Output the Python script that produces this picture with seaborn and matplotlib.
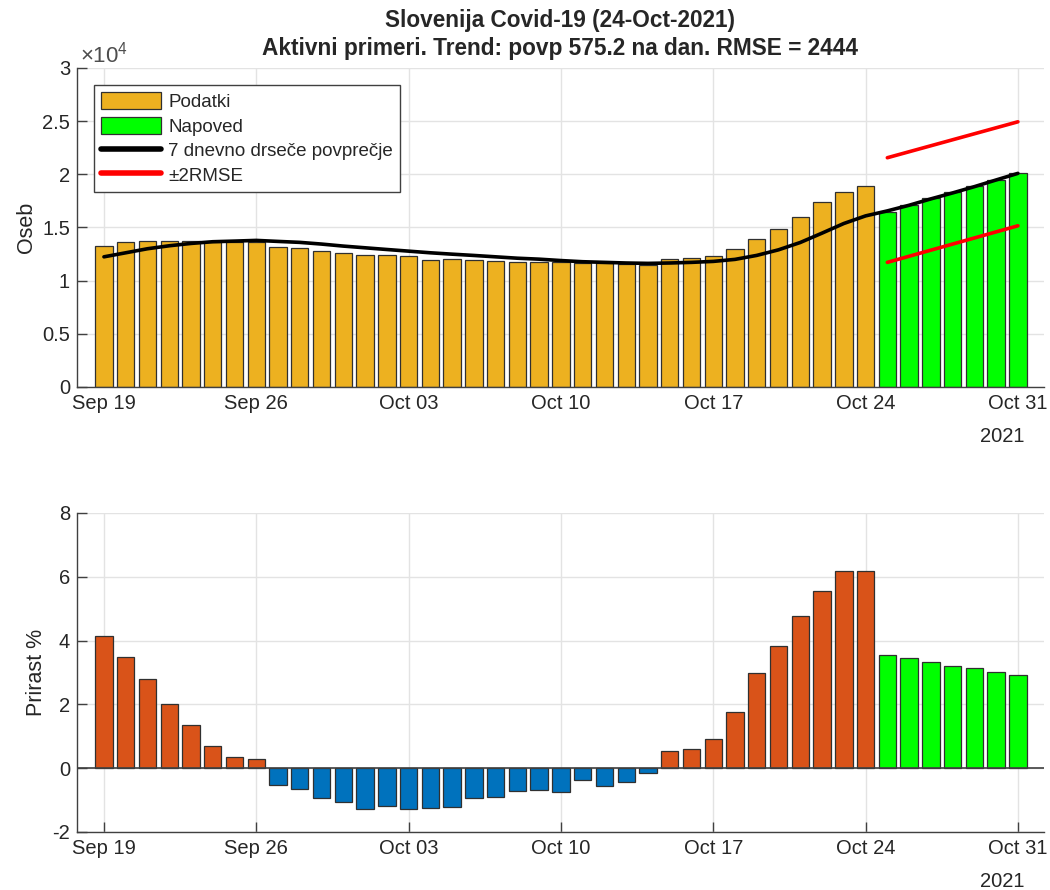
import numpy as np
import pandas as pd
import matplotlib
matplotlib.use("Agg")
import matplotlib.pyplot as plt
import seaborn as sns
from matplotlib.patches import Patch
from matplotlib.lines import Line2D

# ---------------- data ----------------
dates = pd.date_range("2021-09-19", "2021-10-31", freq="D")
tick_labels = ["Sep 19", "Sep 26", "Oct 03", "Oct 10", "Oct 17", "Oct 24", "Oct 31"]

# active cases (Sep 19 - Oct 24)
podatki = [13240, 13650, 13740, 13740, 13740, 13600, 13620, 13600, 13180, 13080,
           12800, 12610, 12420, 12420, 12330, 11950, 12075, 11950, 11855, 11760,
           11760, 11800, 11660, 11660, 11560, 11500, 12030, 12125, 12310, 12970,
           13940, 14875, 15970, 17400, 18340, 18875]
# forecast (Oct 25 - Oct 31)
napoved = [16470, 17090, 17750, 18310, 18900, 19500, 20125]
# 7-day moving average (Sep 19 - Oct 31)
drsece = [12240, 12620, 13000, 13280, 13500, 13660, 13720, 13785, 13690, 13600,
          13440, 13250, 13090, 12930, 12775, 12620, 12490, 12370, 12240, 12110,
          12020, 11890, 11780, 11720, 11660, 11625, 11660, 11720, 11810, 12000,
          12375, 12900, 13590, 14470, 15375, 16090, 16560, 17090, 17690, 18250,
          18840, 19470, 20090]
# +-2 RMSE band endpoints (Oct 25 and Oct 31)
rmse_days = [36, 42]
rmse_upper = [21560, 24940]
rmse_lower = [11720, 15160]
# daily growth in % (Sep 19 - Oct 31)
prirast = [4.14, 3.48, 2.81, 2.01, 1.36, 0.71, 0.34, 0.28, -0.52, -0.64,
           -0.95, -1.07, -1.29, -1.20, -1.29, -1.26, -1.23, -0.95, -0.89, -0.73,
           -0.68, -0.75, -0.36, -0.56, -0.44, -0.16, 0.53, 0.59, 0.91, 1.75,
           2.97, 3.83, 4.77, 5.55, 6.18, 6.18, 3.55, 3.46, 3.33, 3.21,
           3.13, 3.02, 2.93]

n_data = len(podatki)
days = np.arange(len(dates))

# ---------------- style ----------------
sns.set_style("ticks")
plt.rcParams["font.family"] = ["Liberation Sans", "DejaVu Sans"]
plt.rcParams["mathtext.fontset"] = "custom"
plt.rcParams["mathtext.rm"] = "Liberation Sans"
plt.rcParams["axes.unicode_minus"] = False

GOLD = "#EDB120"
GREEN = "#00FF00"
ORANGE = "#D95319"
BLUE = "#0072BD"
EDGE = "#303030"
AXC = "#404040"
TXT = "#262626"
GRID = "#e3e3e3"

fig = plt.figure(figsize=(10.5, 8.9), dpi=100)
ax1 = fig.add_axes([0.0733, 0.5652, 0.9210, 0.3584])
ax2 = fig.add_axes([0.0733, 0.0652, 0.9210, 0.3584])

# ---------------- top chart ----------------
df_top = pd.DataFrame({
    "day": days,
    "value": list(podatki) + list(napoved),
    "kind": ["Podatki"] * n_data + ["Napoved"] * len(napoved),
})
sns.barplot(data=df_top, x="day", y="value", hue="kind",
            palette={"Podatki": GOLD, "Napoved": GREEN}, dodge=False,
            saturation=1, width=0.8, edgecolor=EDGE, linewidth=0.9,
            legend=False, ax=ax1, zorder=2)
sns.lineplot(x=days, y=drsece, color="black", linewidth=2.6, ax=ax1, zorder=4)
sns.lineplot(x=rmse_days, y=rmse_upper, color="red", linewidth=2.6, ax=ax1, zorder=4)
sns.lineplot(x=rmse_days, y=rmse_lower, color="red", linewidth=2.6, ax=ax1, zorder=4)

ax1.set_ylim(0, 30000)
ax1.set_yticks(np.arange(0, 30001, 5000))
ax1.set_yticklabels(["0", "0.5", "1", "1.5", "2", "2.5", "3"])
ax1.set_ylabel("Oseb", fontsize=15.5, color=TXT)
ax1.text(0.003, 1.0, r"$\mathregular{\times10^{4}}$", transform=ax1.transAxes,
         ha="left", va="bottom", fontsize=16, color="#4d4d4d")
ax1.set_title("Slovenija Covid-19 (24-Oct-2021)\n"
              "Aktivni primeri. Trend: povp 575.2 na dan. RMSE = 2444",
              fontsize=16.3, fontweight="bold", linespacing=1.3, pad=9)

handles = [
    Patch(facecolor=GOLD, edgecolor=EDGE, linewidth=0.9, label="Podatki"),
    Patch(facecolor=GREEN, edgecolor=EDGE, linewidth=0.9, label="Napoved"),
    Line2D([], [], color="black", linewidth=4, label="7 dnevno drseče povprečje"),
    Line2D([], [], color="red", linewidth=4, label="±2RMSE"),
]
leg = ax1.legend(handles=handles, loc="upper left",
                 bbox_to_anchor=(0.0176, 0.947), borderaxespad=0,
                 fontsize=13.5, handlelength=3.2, handleheight=1.0,
                 handletextpad=0.35, labelspacing=0.3, borderpad=0.4,
                 fancybox=False, framealpha=1, edgecolor=AXC)
leg.get_frame().set_linewidth(1.0)

# ---------------- bottom chart ----------------
kinds = []
for i, v in enumerate(prirast):
    if i >= n_data:
        kinds.append("Napoved")
    elif v >= 0:
        kinds.append("Rast")
    else:
        kinds.append("Padec")
df_bot = pd.DataFrame({"day": days, "value": prirast, "kind": kinds})
sns.barplot(data=df_bot, x="day", y="value", hue="kind",
            palette={"Rast": ORANGE, "Padec": BLUE, "Napoved": GREEN},
            dodge=False, saturation=1, width=0.8, edgecolor=EDGE,
            linewidth=0.9, legend=False, ax=ax2, zorder=2)
ax2.axhline(0, color=AXC, linewidth=1.2, zorder=3)
ax2.set_ylim(-2, 8)
ax2.set_yticks(np.arange(-2, 9, 2))
ax2.set_ylabel("Prirast %", fontsize=15.5, color=TXT)

# ---------------- common axes formatting ----------------
for ax in (ax1, ax2):
    ax.set_xlim(-1.24, 43.2)
    ax.set_xticks(days[::7])
    ax.set_xticklabels(tick_labels)
    ax.set_xlabel("")
    ax.grid(True, color=GRID, linewidth=1.0, zorder=0)
    ax.set_axisbelow(True)
    for s in ("top", "right"):
        ax.spines[s].set_visible(False)
    for s in ("left", "bottom"):
        ax.spines[s].set_color(AXC)
        ax.spines[s].set_linewidth(1.0)
    ax.tick_params(direction="in", length=7, width=1.0, color=AXC,
                   labelsize=14.5, labelcolor=TXT, pad=5)
    ax.annotate("2021", xy=(42, 0), xycoords=("data", "axes fraction"),
                xytext=(-11.5, -36), textcoords="offset points",
                ha="center", va="center", fontsize=14.5, color=TXT)

fig.savefig("out.png", dpi=100)
